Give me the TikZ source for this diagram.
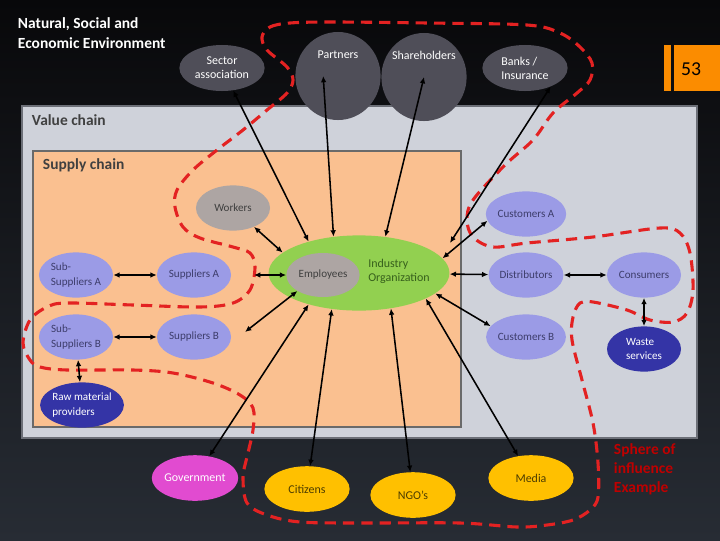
\documentclass[tikz,border=0pt]{standalone}
\usepackage{fontspec}
\setmainfont{Carlito}
\usetikzlibrary{shapes.geometric, arrows.meta}
\definecolor{bgtop}{HTML}{08080A}
\definecolor{bgmid}{HTML}{1C1F25}
\definecolor{bgbottom}{HTML}{272C34}
\definecolor{envgray}{HTML}{4F4E58}
\definecolor{valuefill}{HTML}{CFD2DA}
\definecolor{valueline}{HTML}{6C6F77}
\definecolor{supplyfill}{HTML}{FAC090}
\definecolor{supplyline}{HTML}{6A6A6A}
\definecolor{titlegray}{HTML}{404040}
\definecolor{lavender}{HTML}{9B9BE6}
\definecolor{lavtext}{HTML}{3D3D6B}
\definecolor{deepblue}{HTML}{3434A6}
\definecolor{stone}{HTML}{ADA5A3}
\definecolor{stonetext}{HTML}{3F3F3F}
\definecolor{leafgreen}{HTML}{92D050}
\definecolor{leaftext}{HTML}{37601C}
\definecolor{magenta}{HTML}{E14BD0}
\definecolor{amber}{HTML}{FFC000}
\definecolor{ambertext}{HTML}{4D3D00}
\definecolor{pageorange}{HTML}{FB8C00}
\definecolor{spherered}{HTML}{E32222}
\definecolor{spheretext}{HTML}{C00000}

\begin{document}
\begin{tikzpicture}[
    x=0.025cm, y=-0.025cm,
    % ellipses
    blob/.style={ellipse, inner sep=0pt, align=center, font=\fontsize{8.5}{10}\selectfont},
    outer/.style={blob, fill=envgray, text=white, minimum width=2.13cm, minimum height=1.15cm},
    bigcircle/.style={blob, fill=envgray, minimum width=2.13cm, minimum height=2.2cm},
    circlabel/.style={anchor=center, yshift=-0.57cm, text=white, font=\fontsize{8.5}{10}\selectfont},
    chain/.style={blob, fill=lavender, text=lavtext, minimum width=1.85cm, minimum height=1.13cm, font=\fontsize{7.9}{10}\selectfont},
    deep/.style={chain, fill=deepblue, text=white},
    staff/.style={chain, fill=stone, text=stonetext},
    public/.style={blob, fill=amber, text=ambertext, minimum width=2.13cm, minimum height=1.14cm},
    frametitle/.style={anchor=west, font=\bfseries\fontsize{11}{13}\selectfont, text=titlegray},
    % connectors
    link/.style={{Latex[length=4.5pt,width=4pt]}-{Latex[length=4.5pt,width=4pt]}, line width=1.1pt, black},
    sphere/.style={draw=spherered, line width=2.2pt, dash pattern=on 8pt off 5pt}
]
\useasboundingbox (0,0) rectangle (720,540);

% Background and frames
\shade[top color=bgtop, middle color=bgmid, bottom color=bgbottom] (0,0) rectangle (720,540);
\draw[valueline, fill=valuefill, line width=2pt] (22,106) rectangle (697,438);
\draw[supplyline, fill=supplyfill, line width=2pt] (33,151) rectangle (461,427);

\node[anchor=north west, align=left, text=white, font=\bfseries\fontsize{11}{14}\selectfont] (envtitle) at (13,13) {Natural, Social and\\Economic Environment};
\node[frametitle] (vclabel) at (27,120) {Value chain};
\node[frametitle] (sclabel) at (38,165) {Supply chain};

% Page number
\fill[pageorange] (664,45) rectangle (671,91);
\fill[pageorange] (674,45) rectangle (720,91);
\node[font=\fontsize{14}{16}\selectfont, text=black] (page) at (691,69) {53};

% Sphere of influence
\draw[sphere] plot[smooth cycle, tension=0.55] coordinates {
  (262,37) (270,27) (290,23) (333,22) (427,23) (527,25) (560,33) (580,47)
  (592,63) (590,80) (577,93) (553,113) (533,140) (505,165) (473,200)
  (467,220) (473,237) (493,247) (527,243) (593,237) (660,228) (680,233)
  (690,253) (693,290) (687,313) (673,322) (650,320) (627,310) (593,302)
  (580,303) (573,317) (572,340) (582,380) (593,423) (598,463) (598,497)
  (590,510) (573,520) (547,525) (517,527) (460,523) (360,523) (300,522)
  (267,515) (247,503) (243,477) (247,457) (253,430) (253,408) (240,395)
  (213,383) (173,373) (133,370) (67,370) (40,367) (30,360) (23,343)
  (30,320) (47,307) (67,303) (133,305) (200,307) (233,303) (250,290)
  (255,267) (250,253) (233,247) (200,238) (183,227) (175,207) (177,190)
  (193,170) (217,150) (243,130) (267,110) (287,93) (293,80) (287,67)
  (267,50)};
\node[anchor=west, align=left, text=spheretext, font=\bfseries\fontsize{11}{13.5}\selectfont] (spherelabel) at (609,469) {Sphere of\\influence\\Example};

% Environment
\node[outer] (sector) at (222,68) {Sector\\association};
\node[bigcircle, label={[circlabel]north:Partners}] (partners) at (338,76) {};
\node[bigcircle, label={[circlabel]north:Shareholders}] (shareholders) at (424,77) {};
\node[outer, align=left] (banks) at (525,68) {Banks /\\Insurance};

% Supply chain
\node[staff] (workers) at (233,208) {Workers};
\node[blob, fill=leafgreen, minimum width=4.52cm, minimum height=1.88cm] (indorg) at (359,273) {};
\node[staff, minimum width=1.83cm, minimum height=1.1cm] (employees) at (323,275) {Employees};
\node[align=left, text=leaftext, font=\fontsize{8.5}{10}\selectfont] (orgtext) at (399,271) {Industry\\Organization};
\node[chain, align=left] (subA) at (76,275) {Sub-\\Suppliers A};
\node[chain] (suppA) at (194,275) {Suppliers A};
\node[chain, align=left] (subB) at (76,337) {Sub-\\Suppliers B};
\node[chain] (suppB) at (194,337) {Suppliers B};
\node[deep, align=left] (raw) at (82,405) {Raw material\\providers};

% Value chain
\node[chain] (custA) at (526,214) {Customers A};
\node[chain] (distrib) at (526,275) {Distributors};
\node[chain] (custB) at (526,337) {Customers B};
\node[chain] (consumers) at (644,275) {Consumers};
\node[deep, align=left] (waste) at (644,349) {Waste\\services};

% Society
\node[public, fill=magenta, text=white] (gov) at (195,478) {Government};
\node[public] (citizens) at (307,489) {Citizens};
\node[public] (ngo) at (413,495) {NGO's};
\node[public] (media) at (531,478) {Media};

% Free ends
\coordinate (banks-tip) at (450,243);
\coordinate (suppa-tip) at (254,275);
\coordinate (suppb-tip) at (245,332);

% Connectors
\draw[link] (sector) -- (indorg.148);
\draw[link] ([xshift=-0.37cm]partners.center) -- (indorg.125);
\draw[link] (shareholders.center) -- (indorg.54);
\draw[link] (banks.-36) -- (banks-tip);
\draw[link] (custA.190) -- (indorg.10);
\draw[link] (indorg) -- (distrib);
\draw[link] (custB.163) -- (indorg.-15);
\draw[link] (distrib) -- (consumers);
\draw[link] (consumers) -- (waste);
\draw[link] (workers) -- (indorg.165);
\draw[link] (suppa-tip) -- (employees);
\draw[link] (suppb-tip) -- (employees.212);
\draw[link] (subA) -- (suppA);
\draw[link] (subB) -- (suppB);
\draw[link] (subB) -- (raw);
\draw[link] (gov) -- (indorg.212);
\draw[link] (citizens) -- (indorg.233);
\draw[link] (ngo) -- (indorg.-48);
\draw[link] (media) -- (indorg.-21);

\end{tikzpicture}
\end{document}
